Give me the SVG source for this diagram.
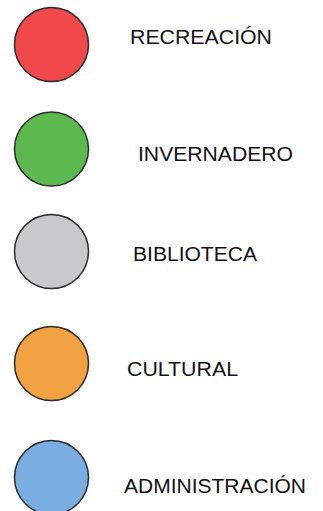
<svg xmlns="http://www.w3.org/2000/svg" width="323" height="511" viewBox="0 0 323 511">
<style>
.c{stroke:#2b2b2b;stroke-width:1.5}
.t{font-family:"Liberation Sans",Arial,sans-serif;font-size:20px;fill:#111}
</style>
<rect width="323" height="511" fill="#fff"/>
<g id="recreacion"><circle class="c" cx="51.5" cy="44.5" r="37" fill="#f0484b"/><text class="t" x="130" y="43.5" textLength="142" lengthAdjust="spacingAndGlyphs">RECREACIÓN</text></g>
<g id="invernadero"><circle class="c" cx="51.5" cy="149" r="37" fill="#5bb94f"/><text class="t" x="138" y="161" textLength="155" lengthAdjust="spacingAndGlyphs">INVERNADERO</text></g>
<g id="biblioteca"><circle class="c" cx="51.5" cy="251.5" r="37" fill="#c8c9cb"/><text class="t" x="133" y="261" textLength="124" lengthAdjust="spacingAndGlyphs">BIBLIOTECA</text></g>
<g id="cultural"><circle class="c" cx="51.5" cy="363.5" r="37" fill="#f2a243"/><text class="t" x="127" y="375.5" textLength="111" lengthAdjust="spacingAndGlyphs">CULTURAL</text></g>
<g id="administracion"><circle class="c" cx="51.5" cy="477.5" r="37" fill="#7aaee0"/><text class="t" x="124" y="493" textLength="182" lengthAdjust="spacingAndGlyphs">ADMINISTRACIÓN</text></g>
<g id="connectors"></g>
</svg>
